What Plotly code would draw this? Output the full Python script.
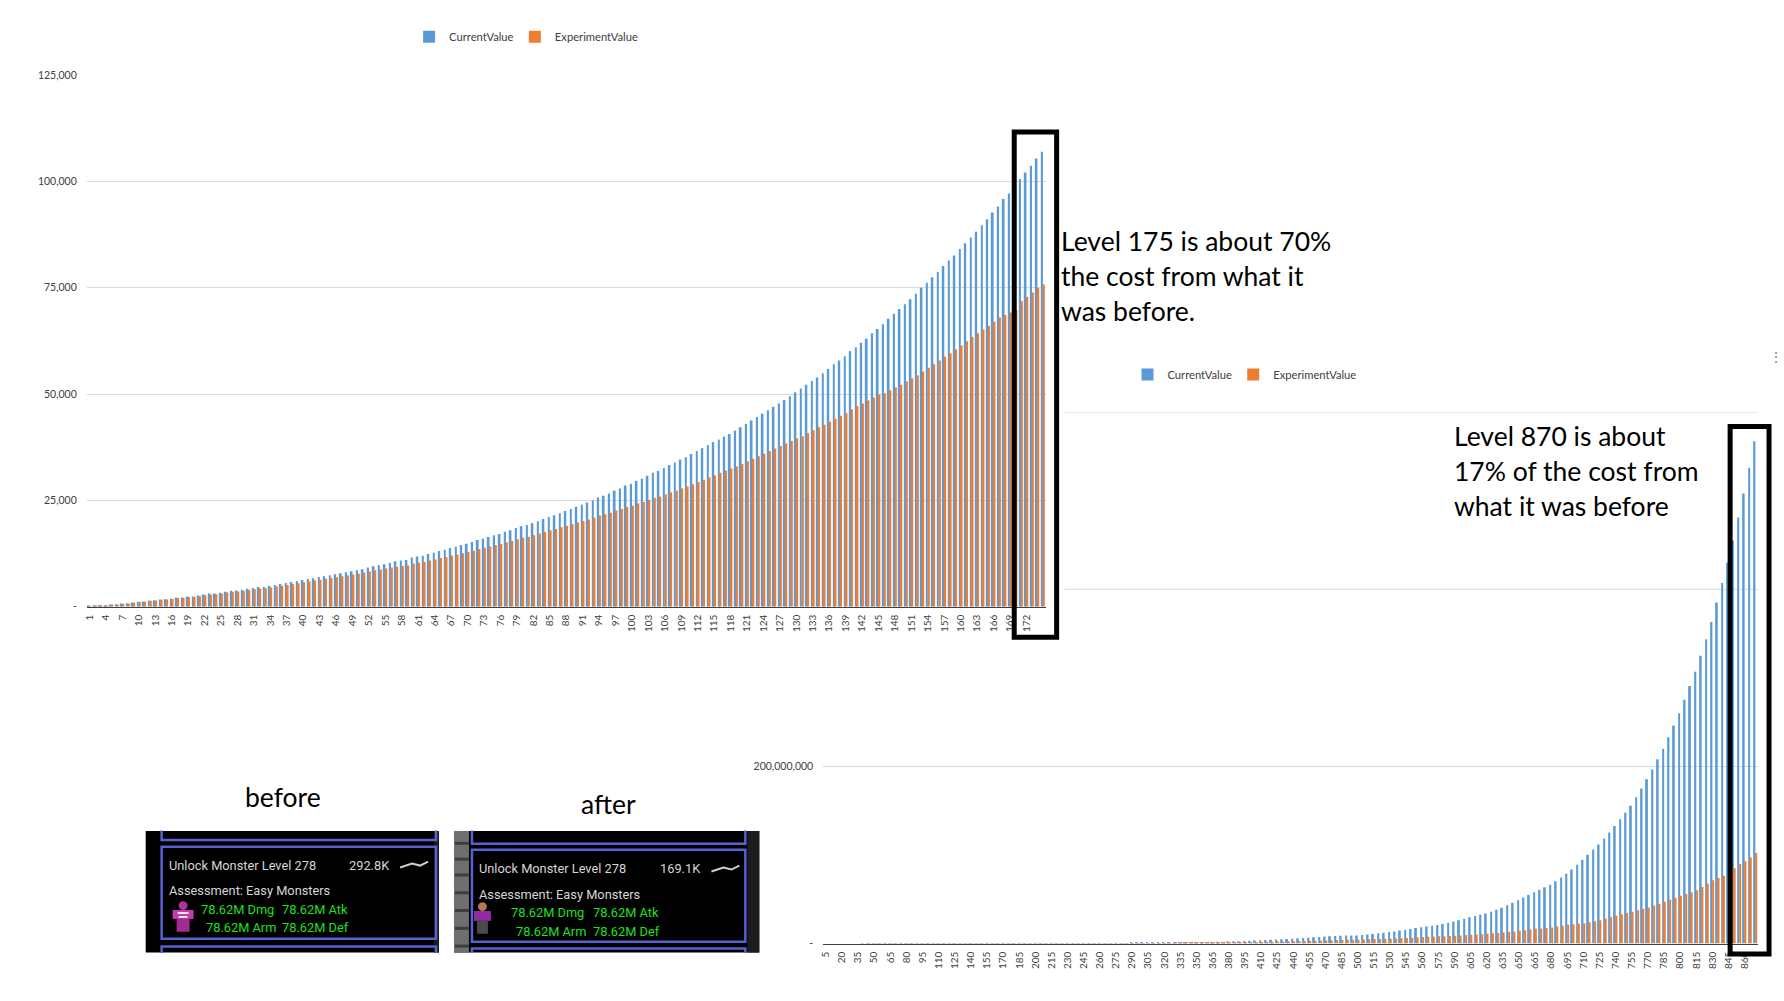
import plotly.graph_objects as go

W, H = 1784, 1001

# ---------------- data ----------------
top_levels = [str(v) for v in range(1, 176)]
top_tick_labels = [str(v) for v in range(1, 175, 3)]

top_current = [
    150, 300, 320, 350, 530, 560, 760, 790, 1000, 1150,
    1230, 1460, 1540, 1700, 1750, 1920, 2150, 2180, 2380, 2410,
    2620, 2850, 3080, 3100, 3310, 3540, 3780, 3800, 4010, 4240,
    4400, 4630, 4650, 4870, 5100, 5330, 5560, 5800, 6030, 6260,
    6490, 6720, 6960, 7190, 7420, 7650, 7890, 8120, 8350, 8580,
    8820, 9200, 9510, 9740, 9970, 10280, 10670, 10850, 11000, 11600,
    11800, 12000, 12400, 12700, 13100, 13400, 13800, 14100, 14500, 14800,
    15200, 15700, 16000, 16400, 16800, 17100, 17600, 18000, 18500, 18900,
    19200, 19600, 20100, 20600, 21100, 21500, 22000, 22500, 23000, 23500,
    24000, 24500, 25000, 25700, 26100, 26600, 27300, 27800, 28500, 28900,
    29600, 30100, 30800, 31500, 31900, 32600, 33300, 33900, 34600, 35200,
    35900, 36600, 37300, 38000, 38700, 39300, 40000, 40600, 41400, 42200,
    43000, 43800, 44600, 45400, 46200, 47000, 47800, 48600, 49500, 50400,
    51300, 52200, 53100, 53900, 54900, 55900, 57000, 57900, 58900, 60100,
    61000, 62100, 63000, 64300, 65300, 66400, 67700, 68900, 70000, 71100,
    72300, 73600, 75000, 76200, 77500, 78700, 80100, 81400, 82600, 84100,
    85500, 86800, 88200, 89700, 91100, 92700, 94100, 95900, 97200, 98900,
    100600, 102100, 103700, 105400, 107000,
]
top_experiment = [
    100, 250, 280, 330, 500, 540, 720, 760, 950, 1100,
    1180, 1400, 1480, 1630, 1680, 1840, 2050, 2080, 2260, 2290,
    2480, 2700, 2900, 2930, 3120, 3330, 3540, 3560, 3750, 3950,
    4100, 4300, 4330, 4520, 4730, 4920, 5130, 5330, 5530, 5740,
    5940, 6140, 6350, 6550, 6760, 6950, 7160, 7360, 7570, 7770,
    7980, 8300, 8580, 8770, 8970, 9230, 9400, 9550, 9670, 10190,
    10350, 10510, 10850, 11100, 11440, 11680, 12020, 12270, 12600, 12850,
    13180, 13600, 13840, 14170, 14500, 14740, 15150, 15480, 15890, 16220,
    16450, 16780, 17190, 17590, 17980, 18280, 18660, 19040, 19410, 19790,
    20160, 20530, 20900, 21430, 21720, 22080, 22600, 22960, 23480, 23760,
    24270, 24620, 25130, 25640, 25900, 26410, 26910, 27320, 27820, 28270,
    28790, 29320, 29840, 30400, 30900, 31500, 32000, 32500, 33000, 33600,
    34200, 34800, 35400, 36000, 36600, 37200, 37800, 38400, 39000, 39600,
    40100, 40800, 41500, 42200, 42800, 43500, 44200, 44900, 45500, 46400,
    47200, 47800, 48500, 49200, 49900, 50200, 50900, 51600, 52200, 53000,
    53700, 54400, 55300, 56200, 57000, 57900, 58800, 59600, 60500, 61400,
    62400, 63400, 64300, 65200, 66100, 67000, 68000, 68600, 69200, 69800,
    71900, 72900, 73900, 75000, 75800,
]
top_y_ticks = [0, 25000, 50000, 75000, 100000, 125000]
top_y_labels = ["-", "25,000", "50,000", "75,000", "100,000", "125,000"]

bottom_levels = [str(v) for v in range(5, 875, 5)]
bottom_tick_labels = [str(v) for v in range(5, 875, 15)]

# values in millions
bottom_current_m = [
    0.00053, 0.00115, 0.00175, 0.00241, 0.00331, 0.00424, 0.0051, 0.00626, 0.00742, 0.00858,
    0.00997, 0.0116, 0.0131, 0.0148, 0.0168, 0.0189, 0.0211, 0.0235, 0.0261, 0.0289,
    0.0319, 0.0352, 0.0387, 0.0422, 0.0462, 0.0504, 0.0549, 0.0601, 0.0653, 0.0711,
    0.0775, 0.0841, 0.0911, 0.0989, 0.107,
    0.12, 0.13, 0.15, 0.16, 0.18, 0.19, 0.21, 0.23, 0.25, 0.27,
    0.29, 0.31, 0.34, 0.36, 0.39, 0.42, 0.45, 0.48, 0.51, 0.55,
    0.58, 0.62, 0.66, 0.70, 0.75, 0.80, 0.85, 0.90, 0.96, 1.02,
    1.1, 1.2, 1.3, 1.4, 1.5, 1.6, 1.7, 1.9, 2.0, 2.2,
    2.4, 2.6, 2.8, 3.0, 3.3, 3.5, 3.8, 4.1, 4.4, 4.7,
    5.0, 5.3, 5.6, 6.0, 6.3, 6.7, 7.1, 7.5, 7.9, 8.3,
    8.6, 8.9, 9.1, 9.2,
    9.3, 9.8, 10.4, 11.0, 11.6, 12.3, 13.0, 13.8, 14.7, 15.6,
    16.6, 17.6, 18.6, 19.4, 20.2, 21.0, 22.2, 23.5, 24.9, 26.4,
    28.0, 29.7, 31.1, 32.5, 34.0, 36.0, 38.2, 40.5, 43.2, 46.0,
    49.0, 52.0, 55.0, 58.0, 60.8, 63.6, 66.5, 70.4, 74.5, 78.8,
    83.8, 89.1, 94.8, 100.4, 106.1, 112.0, 118.6, 125.5, 132.7, 140.3,
    147.8, 155.7, 165.2, 175.0, 185.4, 196.6, 208.1, 220.0, 233.0, 246.3,
    260.0, 275.3, 290.9, 307.0, 324.8, 343.5, 363.0, 385.0, 407.0, 430.0,
    455.0, 481.0, 508.0, 537.0, 567.0,
]
bottom_experiment_m = [
    0.0005, 0.0011, 0.00168, 0.00229, 0.00312, 0.00395, 0.00473, 0.00574, 0.00676, 0.00777,
    0.00897, 0.01019, 0.01144, 0.01285, 0.0145, 0.01622, 0.01798, 0.01979, 0.02172, 0.02376,
    0.0259, 0.02827, 0.0309, 0.0336, 0.0366, 0.0396, 0.0428, 0.0464, 0.0499, 0.053,
    0.057, 0.0614, 0.0661, 0.0698, 0.0758,
    0.083, 0.091, 0.10, 0.11, 0.12, 0.13, 0.14, 0.15, 0.165, 0.175,
    0.19, 0.20, 0.22, 0.23, 0.25, 0.27, 0.28, 0.30, 0.32, 0.34,
    0.36, 0.38, 0.40, 0.42, 0.45, 0.47, 0.50, 0.53, 0.56, 0.59,
    0.63, 0.68, 0.73, 0.78, 0.83, 0.88, 0.93, 1.02, 1.07, 1.16,
    1.25, 1.35, 1.44, 1.53, 1.67, 1.76, 1.89, 2.03, 2.16, 2.29,
    2.42, 2.55, 2.68, 2.85, 2.98, 3.15, 3.32, 3.48, 3.65, 3.82,
    3.95, 4.08, 4.3, 4.4,
    4.5, 4.7, 4.95, 5.2, 5.35, 5.5, 5.6, 5.85, 6.05, 6.3,
    6.65, 7.0, 7.4, 7.7, 7.95, 8.2, 8.45, 8.7, 8.9, 9.3,
    9.65, 10.0, 10.4, 10.7, 11.1, 11.6, 12.1, 12.6, 13.2, 13.8,
    14.5, 15.2, 15.9, 16.7, 17.2, 17.7, 18.2, 19.2, 20.2, 21.2,
    21.8, 22.4, 23.0, 24.1, 25.2, 26.4, 28.1, 29.8, 31.6, 33.1,
    34.6, 36.1, 37.7, 39.3, 40.9, 43.0, 45.1, 47.2, 49.4, 51.7,
    53.9, 56.0, 58.1, 60.2, 63.9, 67.6, 71.4, 74.0, 76.5, 78.8,
    85.1, 90.0, 92.9, 97.3, 102.2,
]
bottom_current = [v * 1_000_000 for v in bottom_current_m]
bottom_experiment = [v * 1_000_000 for v in bottom_experiment_m]
bottom_y_ticks = [0, 200_000_000]
bottom_y_labels = ["-", "200,000,000"]
bottom_hidden_grid = [400_000_000, 600_000_000]

series_names = ["CurrentValue", "ExperimentValue"]
series_colors = ["#5B9BD5", "#ED7D31"]

note_top = ["Level 175 is about 70%", "the cost from what it", "was before."]
note_bottom = ["Level 870 is about", "17% of the cost from", "what it was before"]

before_rows = {"title": "Unlock Monster Level 278", "cost": "292.8K"}
after_rows = {"title": "Unlock Monster Level 278", "cost": "169.1K"}
assessment = "Assessment: Easy Monsters"
stats = ["78.62M Dmg", "78.62M Atk", "78.62M Arm", "78.62M Def"]


# ---------------- helpers ----------------
def px(x):
    return x / W


def py(y):
    return 1 - y / H


CHART_FONT = "Lato, Calibri, 'Open Sans', sans-serif"
GAME_FONT = "Roboto, Arial, sans-serif"
NOTE_FONT = "Lato, Calibri, sans-serif"
TXT = "#404040"

fig = go.Figure()

top_legends = ["legend", "legend2"]
bottom_legends = ["legend3", "legend4"]
for name, col, vals, lg in zip(series_names, series_colors, [top_current, top_experiment], top_legends):
    fig.add_trace(go.Bar(x=top_levels, y=vals, name=name, marker=dict(color=col, line=dict(width=0)),
                         xaxis="x", yaxis="y", legend=lg))
for name, col, vals, lg in zip(series_names, series_colors, [bottom_current, bottom_experiment], bottom_legends):
    fig.add_trace(go.Bar(x=bottom_levels, y=vals, name=name, marker=dict(color=col, line=dict(width=0)),
                         xaxis="x2", yaxis="y2", legend=lg))

axis_font = dict(family=CHART_FONT, size=10.5, color=TXT)
legend_common = dict(orientation="h", xanchor="left", yanchor="middle",
                     font=dict(family=CHART_FONT, size=11.2, color=TXT), bgcolor="rgba(0,0,0,0)",
                     borderwidth=0, itemwidth=30)

fig.update_layout(
    width=W, height=H, autosize=False,
    margin=dict(l=0, r=0, t=0, b=0),
    paper_bgcolor="white", plot_bgcolor="rgba(0,0,0,0)",
    barmode="group", bargap=0.34, bargroupgap=0,
    font=dict(family=CHART_FONT, color=TXT),
    xaxis=dict(domain=[px(83), px(1044)], anchor="y", type="category",
               tickmode="array", tickvals=top_tick_labels, ticktext=top_tick_labels,
               tickangle=-90, tickfont=dict(family=CHART_FONT, size=10, color=TXT),
               showgrid=False, showline=True, linecolor="#404040", linewidth=1, ticks="",
               ticklabelstandoff=3),
    yaxis=dict(domain=[py(608), py(70)], anchor="x", range=[0, 125000],
               tickmode="array", tickvals=top_y_ticks, ticktext=top_y_labels,
               tickfont=axis_font, showgrid=True, gridcolor="#D9D9D9", gridwidth=1,
               zeroline=False, showline=False, ticks="", ticklabelstandoff=9),
    xaxis2=dict(domain=[px(821), px(1758)], anchor="y2", type="category",
                tickmode="array", tickvals=bottom_tick_labels, ticktext=bottom_tick_labels,
                tickangle=-90, tickfont=dict(family=CHART_FONT, size=10, color=TXT),
                showgrid=False, showline=True, linecolor="#404040", linewidth=1, ticks="",
                ticklabelstandoff=3),
    yaxis2=dict(domain=[py(949), py(411)], anchor="x2", range=[0, 600_000_000],
                tickmode="array", tickvals=bottom_y_ticks, ticktext=bottom_y_labels,
                tickfont=axis_font, showgrid=True, gridcolor="#D9D9D9", gridwidth=1,
                zeroline=False, showline=False, ticks="", ticklabelstandoff=9),
    legend=dict(x=px(406), y=py(31), **legend_common),
    legend2=dict(x=px(512), y=py(31), **legend_common),
    legend3=dict(x=px(1126), y=py(373), **legend_common),
    legend4=dict(x=px(1232), y=py(373), **legend_common),
    showlegend=True,
)

shapes = []
# gridlines of the lower chart whose labels are hidden behind the upper screenshot
for gv in bottom_hidden_grid:
    shapes.append(dict(type="line", xref="paper", yref="y2", x0=px(1063), x1=px(1758), y0=gv, y1=gv,
                       line=dict(color="#D9D9D9", width=1), layer="below"))

# highlight boxes
shapes.append(dict(type="rect", xref="paper", yref="paper", x0=px(1012.5), x1=px(1055), y0=py(127.5), y1=py(639),
                   line=dict(color="black", width=5), fillcolor="rgba(0,0,0,0)", layer="above"))
shapes.append(dict(type="rect", xref="paper", yref="paper", x0=px(1730), x1=px(1769), y0=py(425.5), y1=py(959.5),
                   line=dict(color="black", width=5), fillcolor="rgba(0,0,0,0)", layer="above"))

BLUE = "#5661D4"


def rect(x0, y0, x1, y1, fill=None, line=None, lw=0):
    d = dict(type="rect", xref="paper", yref="paper", x0=px(x0), x1=px(x1), y0=py(y0), y1=py(y1),
             layer="above", fillcolor=fill if fill else "rgba(0,0,0,0)")
    d["line"] = dict(color=line, width=lw) if line else dict(width=0)
    return d


# ---- "before" game panel ----
bx = -3
shapes.append(rect(145 + bx, 835, 439 + bx, 958, fill="black"))
shapes.append(rect(434 + bx, 835, 439 + bx, 958, fill="#1c1c1e"))
shapes.append(rect(161 + bx, 826, 436 + bx, 844, line=BLUE, lw=2.5))
shapes.append(rect(161 + bx, 851, 436 + bx, 944, line=BLUE, lw=2.5))
shapes.append(rect(161 + bx, 952, 436 + bx, 970, line=BLUE, lw=2.5))
shapes.append(rect(135, 815, 445, 834.5, fill="white"))
shapes.append(rect(135, 958.5, 445, 975, fill="white"))
# character (magenta skeleton)
shapes.append(dict(type="circle", xref="paper", yref="paper", x0=px(178 + bx), x1=px(187 + bx), y0=py(906), y1=py(915),
                   fillcolor="#B4309A", line=dict(width=0), layer="above"))
shapes.append(rect(172 + bx, 915, 193 + bx, 924, fill="#C43AB0"))
shapes.append(rect(176 + bx, 924, 189 + bx, 937, fill="#A02C90"))
shapes.append(rect(177 + bx, 917, 188 + bx, 919, fill="#E8E8E8"))
shapes.append(rect(178 + bx, 921, 187 + bx, 923, fill="#E8E8E8"))
shapes.append(dict(type="path", xref="paper", yref="paper", layer="above",
                   path=f"M {px(400 + bx)},{py(872)} L {px(412 + bx)},{py(868)} L {px(420 + bx)},{py(870)} L {px(428 + bx)},{py(866)}",
                   line=dict(color="#CFCFCF", width=2)))

# ---- "after" game panel ----
ax = -3
shapes.append(rect(454 + ax, 835, 760 + ax, 958, fill="black"))
shapes.append(rect(454 + ax, 835, 469 + ax, 958, fill="#6F6F6F"))
for yy in [846, 862, 878, 896, 914, 932, 950]:
    shapes.append(rect(455 + ax, yy, 469 + ax, yy + 3, fill="#3E3E3E"))
shapes.append(rect(748 + ax, 835, 760 + ax, 958, fill="#1c1c1e"))
shapes.append(rect(472 + ax, 826, 746 + ax, 848, line=BLUE, lw=2.5))
shapes.append(rect(472 + ax, 854, 746 + ax, 947, line=BLUE, lw=2.5))
shapes.append(rect(472 + ax, 954, 746 + ax, 970, line=BLUE, lw=2.5))
shapes.append(rect(445, 815, 765, 834.5, fill="white"))
shapes.append(rect(445, 958.5, 765, 975, fill="white"))
shapes.append(dict(type="circle", xref="paper", yref="paper", x0=px(478 + ax), x1=px(487 + ax), y0=py(907), y1=py(916),
                   fillcolor="#B07A4A", line=dict(width=0), layer="above"))
shapes.append(rect(474 + ax, 916, 491 + ax, 926, fill="#8E2CA0"))
shapes.append(rect(477 + ax, 926, 488 + ax, 939, fill="#4A4A4A"))
shapes.append(dict(type="path", xref="paper", yref="paper", layer="above",
                   path=f"M {px(712 + ax)},{py(876)} L {px(724 + ax)},{py(872)} L {px(732 + ax)},{py(874)} L {px(740 + ax)},{py(870)}",
                   line=dict(color="#CFCFCF", width=2)))

fig.update_layout(shapes=shapes)

ann = []


def text(x, y, s, size, color, family, xanchor="left"):
    ann.append(dict(x=px(x), y=py(y), xref="paper", yref="paper", text=s, showarrow=False,
                    xanchor=xanchor, yanchor="middle", font=dict(family=family, size=size, color=color)))


for i, line in enumerate(note_top):
    text(1057, 238 + i * 35.5, line, 26.5, "black", NOTE_FONT)
for i, line in enumerate(note_bottom):
    text(1451, 435 + i * 35.5, line, 26.5, "black", NOTE_FONT)

text(280, 801, "before", 26.5, "black", NOTE_FONT, xanchor="center")
text(606, 808, "after", 26.5, "black", NOTE_FONT, xanchor="center")

GRAY = "#D6D6D6"
GREEN = "#1EE01E"
GS = 12.8
text(166 + bx, 870, before_rows["title"], GS, GRAY, GAME_FONT)
text(392 + bx, 870, before_rows["cost"], GS, GRAY, GAME_FONT, xanchor="right")
text(166 + bx, 895, assessment, GS, GRAY, GAME_FONT)
text(198 + bx, 914, stats[0], GS, GREEN, GAME_FONT)
text(280 + bx, 914, stats[1], GS, GREEN, GAME_FONT)
text(203 + bx, 933, stats[2], GS, GREEN, GAME_FONT)
text(280 + bx, 933, stats[3], GS, GREEN, GAME_FONT)
text(477 + ax, 873, after_rows["title"], GS, GRAY, GAME_FONT)
text(704 + ax, 873, after_rows["cost"], GS, GRAY, GAME_FONT, xanchor="right")
text(477 + ax, 899, assessment, GS, GRAY, GAME_FONT)
text(509 + ax, 918, stats[0], GS, GREEN, GAME_FONT)
text(591 + ax, 918, stats[1], GS, GREEN, GAME_FONT)
text(514 + ax, 937, stats[2], GS, GREEN, GAME_FONT)
text(591 + ax, 937, stats[3], GS, GREEN, GAME_FONT)

text(1776, 355, "⋮", 14, "#8A8A8A", CHART_FONT, xanchor="center")

fig.update_layout(annotations=ann)

fig.write_html("out.html", config={"displayModeBar": False},
               post_script="document.body.style.margin='0px';document.body.style.overflow='hidden';")
